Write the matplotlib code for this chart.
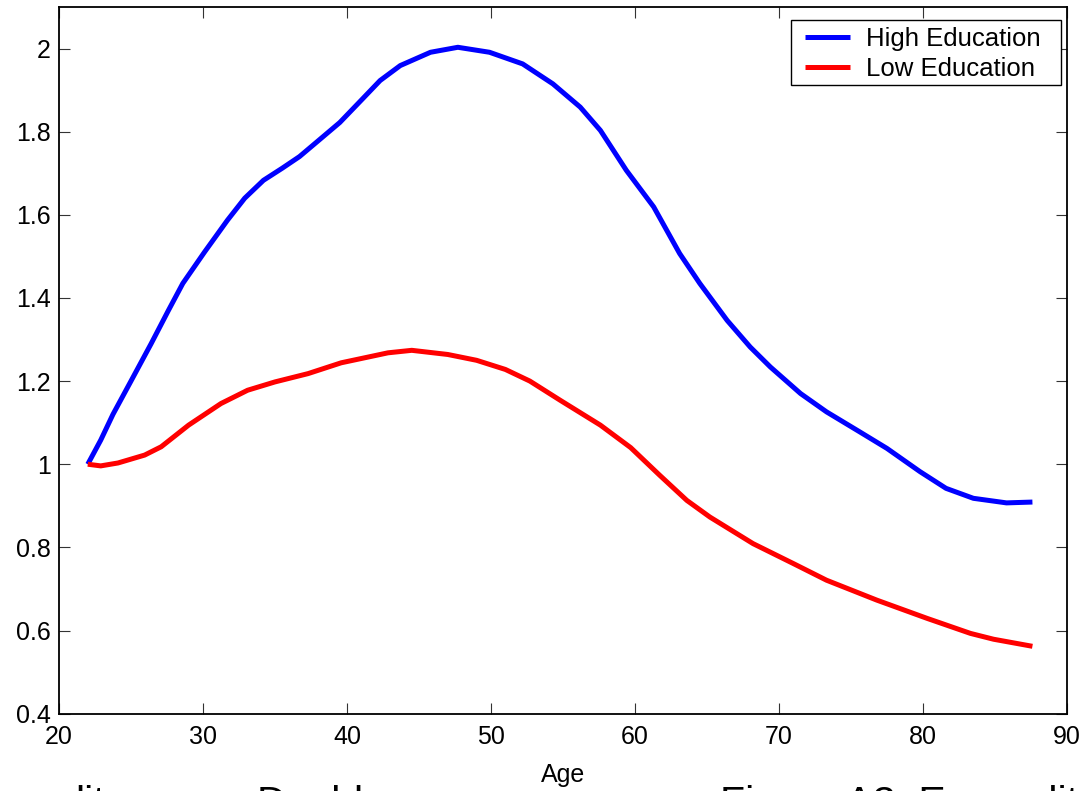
import matplotlib
matplotlib.use("Agg")
import matplotlib.pyplot as plt
from matplotlib.patches import Rectangle

plt.rcParams["font.family"] = ["Liberation Sans", "DejaVu Sans"]

# life-cycle profiles, normalised to 1 at age 22
high_age = [22.0, 22.9, 23.75, 25.0, 26.4, 27.6, 28.6, 30.1, 31.7, 32.9, 34.2,
            35.5, 36.7, 38.0, 39.5, 41.0, 42.3, 43.7, 45.8, 47.7, 49.9, 52.2,
            54.3, 56.2, 57.6, 59.4, 61.3, 63.1, 64.5, 66.4, 68.0, 69.4, 71.5,
            73.3, 75.6, 77.5, 79.8, 81.6, 83.5, 85.8, 87.6]
high_edu = [1.0, 1.058, 1.12, 1.20, 1.29, 1.37, 1.435, 1.51, 1.587, 1.64, 1.683,
            1.712, 1.74, 1.778, 1.822, 1.876, 1.923, 1.959, 1.991, 2.003, 1.991,
            1.963, 1.915, 1.859, 1.803, 1.707, 1.619, 1.507, 1.435, 1.346,
            1.282, 1.234, 1.17, 1.126, 1.078, 1.038, 0.982, 0.942, 0.918, 0.907,
            0.909]

low_age = [22.0, 22.9, 24.1, 25.95, 27.1, 29.0, 31.25, 33.1, 35.0, 37.3, 39.6,
           42.85, 44.5, 47.0, 49.0, 51.0, 52.7, 54.8, 57.6, 59.7, 61.7, 63.6,
           65.2, 68.2, 71.0, 73.3, 76.8, 80.3, 83.3, 84.9, 87.6]
low_edu = [1.0, 0.996, 1.003, 1.022, 1.042, 1.094, 1.146, 1.178, 1.198, 1.218,
           1.244, 1.268, 1.274, 1.264, 1.25, 1.228, 1.2, 1.154, 1.094, 1.04,
           0.974, 0.913, 0.873, 0.809, 0.761, 0.721, 0.673, 0.629, 0.593, 0.579,
           0.562]

x_ticks = [20, 30, 40, 50, 60, 70, 80, 90]
y_ticks = [0.4, 0.6, 0.8, 1.0, 1.2, 1.4, 1.6, 1.8, 2.0]
y_tick_labels = ["0.4", "0.6", "0.8", "1", "1.2", "1.4", "1.6", "1.8", "2"]

fig = plt.figure(figsize=(10.84, 7.91), dpi=100)
ax = fig.add_axes([0.0544, 0.0978, 0.9299, 0.8934])

ax.plot(high_age, high_edu, color="#0000ff", lw=3.6, label="High Education",
        solid_capstyle="butt", solid_joinstyle="round")
ax.plot(low_age, low_edu, color="#ff0000", lw=3.6, label="Low Education",
        solid_capstyle="butt", solid_joinstyle="round")

ax.set_xlim(20, 90)
ax.set_ylim(0.4, 2.1)
ax.set_xticks(x_ticks)
ax.set_yticks(y_ticks)
ax.set_yticklabels(y_tick_labels)
ax.tick_params(direction="in", length=7.7, width=0.8, color="#333333",
               top=True, right=True, labelsize=18)
ax.tick_params(axis="x", pad=8)
ax.tick_params(axis="y", pad=6)
for s in ax.spines.values():
    s.set_linewidth(1.3)
ax.set_xlabel("Age", fontsize=18, labelpad=10)

# legend entries without their own frame; a wider box is drawn around them
leg = ax.legend(loc="upper left", bbox_to_anchor=(0.7401, 0.9717),
                borderaxespad=0, fontsize=18.5, frameon=False,
                handlelength=1.75, handletextpad=0.62, borderpad=0,
                labelspacing=0.225)
ax.add_patch(Rectangle((0.7262, 0.8896), 0.2678, 0.0920, transform=ax.transAxes,
                       facecolor="white", edgecolor="black", lw=1.0, zorder=4))
leg.set_zorder(5)

# running text of the page below the figure, mostly cut off
for xpos, word in [(75 / 1084, "lity"), (257 / 1084, "Double"),
                   (720 / 1084, "Figure A3: Expenditure")]:
    fig.text(xpos, -24 / 791, word, fontsize=29.5, va="baseline", ha="left")

fig.savefig("out.png", dpi=100)
